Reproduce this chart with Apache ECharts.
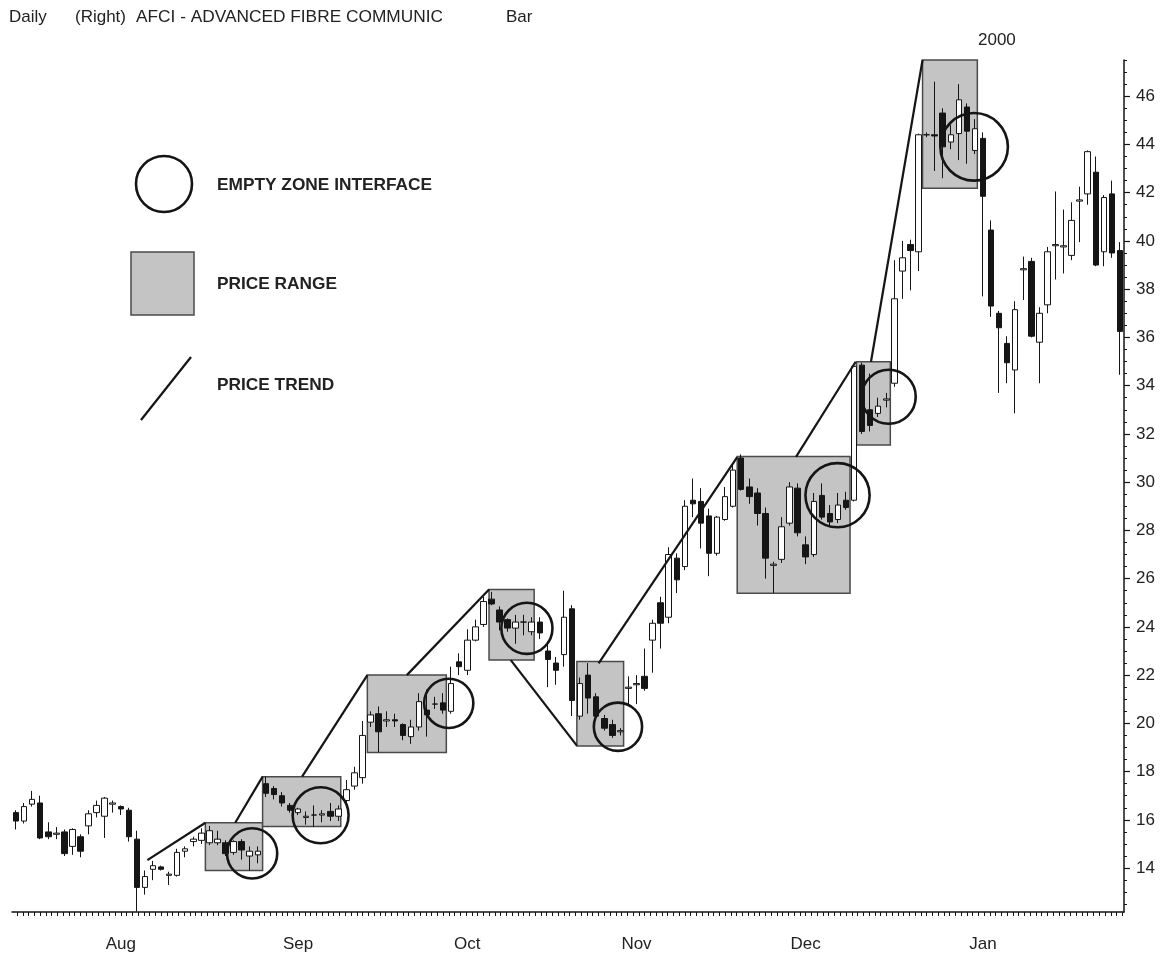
<!DOCTYPE html>
<html><head><meta charset="utf-8">
<script src="https://cdn.jsdelivr.net/npm/echarts@6/dist/echarts.min.js"></script>
<style>html,body{margin:0;padding:0;background:#fff}#c{width:1161px;height:955px}</style>
</head><body><div id="c"></div>
<script>
// trading days per month (Jul 1999 - Jan 2000)
const tradingDays = {
  '1999-07': [14,15,16,19,20,21,22,23,26,27,28,29,30],
  '1999-08': [2,3,4,5,6,9,10,11,12,13,16,17,18,19,20,23,24,25,26,27,30,31],
  '1999-09': [1,2,3,7,8,9,10,13,14,15,16,17,20,21,22,23,24,27,28,29,30],
  '1999-10': [1,4,5,6,7,8,11,12,13,14,15,18,19,20,21,22,25,26,27,28,29],
  '1999-11': [1,2,3,4,5,8,9,10,11,12,15,16,17,18,19,22,23,24,26,29,30],
  '1999-12': [1,2,3,6,7,8,9,10,13,14,15,16,17,20,21,22,23,27,28,29,30,31],
  '2000-01': [3,4,5,6,7,10,11,12,13,14,18,19,20,21,24,25,26,27]
};
const monthNames = {'07':'Jul','08':'Aug','09':'Sep','10':'Oct','11':'Nov','12':'Dec','01':'Jan'};

// [open, close, low, high]
const candles = [
 [16.3,15.95,15.6,16.4],[15.95,16.55,15.85,16.7],[16.65,16.85,16.55,17.2],[16.7,15.25,15.2,17.0],
 [15.5,15.3,15.2,15.9],[15.4,15.45,15.2,15.7],[15.5,14.6,14.5,15.6],[14.9,15.6,14.55,15.65],
 [15.3,14.7,14.45,15.4],[15.75,16.25,15.4,16.4],[16.3,16.6,16.1,16.8],[16.15,16.9,15.25,16.95],
 [16.65,16.7,16.3,16.8],[16.55,16.45,16.2,16.6],[16.4,15.3,15.1,16.5],[15.2,13.2,12.2,15.55],
 [13.2,13.65,12.9,13.9],[13.95,14.1,13.5,14.3],[14.05,13.95,13.9,14.1],[13.7,13.75,13.3,13.85],
 [13.7,14.65,13.65,14.8],[14.7,14.8,14.45,14.9],[15.1,15.2,14.9,15.3],[15.15,15.45,15.0,15.65],
 [15.05,15.55,14.95,15.75],[15.05,15.2,14.95,15.55],[15.05,14.6,14.5,15.15],[14.65,15.1,14.55,15.15],
 [15.1,14.75,14.35,15.2],[14.5,14.7,13.9,14.9],[14.55,14.7,14.2,14.9],[17.5,17.1,16.95,17.8],
 [17.3,17.05,16.85,17.4],[17.0,16.7,16.55,17.15],[16.6,16.4,16.3,16.7],[16.3,16.45,16.2,16.5],
 [16.1,16.15,15.8,16.35],[16.2,16.2,15.7,16.6],[16.2,16.25,15.9,16.4],[16.35,16.15,15.95,16.7],
 [16.15,16.45,15.95,16.6],[16.8,17.25,16.7,17.65],[17.4,17.95,17.25,18.2],[17.75,19.5,17.5,20.1],
 [20.05,20.35,19.85,20.5],[20.4,19.65,18.8,20.7],[20.1,20.15,19.85,20.5],[20.15,20.1,19.85,20.4],
 [19.95,19.5,19.3,20.0],[19.45,19.85,19.15,20.15],[19.85,20.9,19.7,21.25],[20.55,20.35,19.45,21.4],
 [20.8,20.8,20.6,21.1],[20.85,20.55,20.4,21.25],[20.5,21.65,20.4,22.35],[22.55,22.35,22.0,22.9],
 [22.2,23.45,22.0,23.9],[23.45,24.0,23.4,24.3],[24.1,25.05,24.0,25.25],[25.15,24.95,24.9,25.45],
 [24.7,24.2,23.85,24.85],[24.3,23.95,23.8,24.35],[23.95,24.2,23.3,24.5],[24.2,24.2,23.65,24.5],
 [23.8,24.2,23.65,24.4],[24.2,23.75,23.5,24.4],[23.0,22.65,21.5,23.4],[22.5,22.2,21.6,22.75],
 [22.85,24.4,22.35,25.5],[24.75,20.95,20.3,24.9],[20.3,21.65,20.15,21.9],[22.0,21.05,20.4,22.5],
 [21.1,20.3,20.2,21.25],[20.2,19.8,19.7,20.35],[19.95,19.5,19.4,20.15],[19.65,19.7,19.5,19.8],
 [21.45,21.5,20.8,21.95],[21.6,21.65,20.8,22.0],[21.95,21.45,21.35,23.1],[23.45,24.15,22.1,24.3],
 [25.0,24.15,23.1,25.25],[24.4,27.0,24.15,27.3],[26.85,25.95,25.4,27.05],[26.5,29.0,26.35,29.25],
 [29.25,29.1,28.55,30.15],[29.2,28.3,27.25,29.75],[28.6,27.05,26.1,28.9],[27.05,28.55,26.95,28.6],
 [28.45,29.4,28.4,29.8],[29.0,30.5,28.95,30.8],[31.0,29.7,29.65,31.15],[29.8,29.4,29.1,30.15],
 [29.55,28.7,28.2,29.75],[28.7,26.85,26.0,28.95],[26.55,26.6,25.4,26.7],[26.8,28.15,26.65,28.55],
 [28.3,29.8,28.2,30.0],[29.75,27.9,27.75,29.95],[27.4,26.9,26.6,27.75],[27.0,29.2,26.9,29.55],
 [29.45,28.55,28.45,29.95],[28.7,28.35,28.2,29.05],[28.45,29.05,28.3,29.55],[29.25,28.95,28.85,29.6],
 [29.25,34.8,29.2,34.85],[34.85,32.1,32.0,34.95],[33.0,32.35,32.1,34.5],[32.85,33.15,32.7,33.5],
 [33.4,33.45,33.1,33.7],[34.1,37.6,33.95,39.2],[38.75,39.3,37.6,40.0],[39.85,39.6,37.95,40.05],
 [39.55,44.4,38.75,44.45],[44.4,44.4,44.3,44.5],[44.4,44.35,42.9,46.6],[45.3,43.9,42.6,45.5],
 [44.1,44.4,43.8,44.8],[44.45,45.85,43.35,46.5],[45.55,44.55,43.2,45.7],[43.75,44.65,43.6,45.05],
 [44.25,41.85,37.7,44.5],[40.45,37.3,36.85,40.85],[37.0,36.4,33.7,37.1],[35.75,34.95,34.1,36.05],
 [34.65,37.15,32.85,37.5],[38.8,38.85,37.55,39.35],[39.15,36.05,36.0,39.3],[35.8,37.0,34.1,37.25],
 [37.35,39.55,37.0,39.75],[39.8,39.85,38.4,42.05],[39.75,39.8,38.65,41.3],[39.4,40.85,39.2,41.6],
 [41.65,41.7,39.95,42.25],[41.95,43.7,41.5,43.75],[42.85,39.0,38.95,43.5],[39.55,41.8,38.95,41.9],
 [41.95,39.5,39.3,42.5],[39.6,36.25,34.45,39.95]
];

// price range boxes: [startIndex, endIndex, lowPrice, highPrice]
const priceRanges = [
 [23.5,30.6,13.9,15.88],[30.6,40.3,15.72,17.79],[43.6,53.4,18.79,22.0],[58.7,64.3,22.63,25.55],
 [69.6,75.4,19.06,22.56],[89.5,103.5,25.39,31.06],[104.3,108.5,31.54,34.99],[112.5,119.3,42.18,47.5]
];
// price trend segments: [index1, price1, index2, price2]
const priceTrends = [
 [16.3,14.33,23.5,15.88],[27.2,15.88,30.6,17.79],[35.5,17.79,43.6,22.0],[48.5,22.0,58.7,25.55],
 [61.4,22.62,69.6,19.08],[72.3,22.49,89.5,31.04],[96.8,31.05,104.2,34.99],[106.1,34.99,112.5,47.5]
];
// empty zone interfaces: [centerIndex, centerPrice, radiusInPrice]
const emptyZones = [
 [29.3,14.61,1.04],[37.8,16.19,1.16],[53.7,20.83,1.02],[63.4,23.94,1.06],
 [74.7,19.86,1.0],[101.95,29.46,1.33],[108.3,33.54,1.12],[118.9,43.9,1.4]
];
const yLabels = [14,16,18,20,22,24,26,28,30,32,34,36,38,40,42,44,46];

const categories = [];
for (const ym in tradingDays) for (const d of tradingDays[ym]) categories.push(ym + '-' + String(d).padStart(2,'0'));
const isMonthStart = i => i > 0 && categories[i].slice(0,7) !== categories[i-1].slice(0,7);

const N = categories.length;
const yMin = 12.18, yMax = 47.5;
const minorY = []; for (let v = 12.5; v <= 47.5; v += 0.5) minorY.push(v);
const calTicks = [];
for (let v = 13; v >= -0.5; v -= 5/7) calTicks.push(v);
for (let v = 13 + 5/7; v <= N - 0.5; v += 5/7) calTicks.push(v);

const ink = '#151515';
const FONT = '"Liberation Sans", Arial, sans-serif';
const chart = echarts.init(document.getElementById('c'), null, {renderer:'canvas'});
chart.setOption({
  animation: false,
  backgroundColor: '#fff',
  grid: {left: 12, right: 37, top: 60, bottom: 43},
  xAxis: [{
    type: 'category', data: categories, position: 'bottom', boundaryGap: true,
    axisLine: {onZero: false, lineStyle: {color: ink, width: 1.5}},
    axisTick: {interval: (i) => isMonthStart(i), alignWithLabel: true, length: 9, lineStyle: {color: ink, width: 1.2}},
    axisLabel: {interval: (i) => isMonthStart(i), formatter: v => monthNames[v.slice(5,7)], margin: 24,
      fontSize: 17, fontFamily: FONT, color: '#222'},
    splitLine: {show: false}
  }, {
    type: 'value', min: -0.5, max: N - 0.5, position: 'bottom',
    axisLine: {show: false, onZero: false},
    axisTick: {show: true, customValues: calTicks, length: 4, lineStyle: {color: ink, width: 1}},
    axisLabel: {show: false}, splitLine: {show: false}
  }],
  yAxis: [{
    type: 'value', position: 'right', min: yMin, max: yMax, scale: true,
    axisLine: {show: true, onZero: false, lineStyle: {color: ink, width: 1.5}},
    axisTick: {show: true, customValues: yLabels, length: 6, lineStyle: {color: ink, width: 1.2}},
    axisLabel: {customValues: yLabels, margin: 12, fontSize: 17, fontFamily: FONT, color: '#222'},
    splitLine: {show: false}
  }, {
    type: 'value', position: 'right', min: yMin, max: yMax, scale: true,
    axisLine: {show: false, onZero: false},
    axisTick: {show: true, customValues: minorY, length: 3, lineStyle: {color: ink, width: 1}},
    axisLabel: {show: false}, splitLine: {show: false}
  }],
  series: [{
    type: 'custom', name: 'PRICE RANGE', xAxisIndex: 1, yAxisIndex: 0, z: 1,
    data: priceRanges, encode: {x: [0,1], y: [2,3]},
    renderItem: (params, api) => {
      const a = api.coord([api.value(0), api.value(3)]);
      const b = api.coord([api.value(1), api.value(2)]);
      return {type: 'rect', shape: {x: a[0], y: a[1], width: b[0]-a[0], height: b[1]-a[1]},
        style: {fill: '#c4c4c4', stroke: '#4a4a4a', lineWidth: 1.5}};
    }
  }, {
    type: 'candlestick', name: 'AFCI', xAxisIndex: 0, yAxisIndex: 0, z: 2,
    data: candles, barWidth: 6,
    itemStyle: {color: '#ffffff', color0: ink, borderColor: ink, borderColor0: ink, borderWidth: 1}
  }, {
    type: 'custom', name: 'PRICE TREND', xAxisIndex: 1, yAxisIndex: 0, z: 3,
    data: priceTrends, encode: {x: [0,2], y: [1,3]},
    renderItem: (params, api) => {
      const a = api.coord([api.value(0), api.value(1)]);
      const b = api.coord([api.value(2), api.value(3)]);
      return {type: 'line', shape: {x1: a[0], y1: a[1], x2: b[0], y2: b[1]},
        style: {stroke: ink, lineWidth: 2.2}};
    }
  }, {
    type: 'custom', name: 'EMPTY ZONE INTERFACE', xAxisIndex: 1, yAxisIndex: 0, z: 4,
    data: emptyZones, encode: {x: 0, y: 1},
    renderItem: (params, api) => {
      const c = api.coord([api.value(0), api.value(1)]);
      const r = api.size([0, api.value(2)])[1];
      return {type: 'circle', shape: {cx: c[0], cy: c[1], r: r},
        style: {fill: 'none', stroke: ink, lineWidth: 2.6}};
    }
  }],
  graphic: [
    {type: 'text', x: 9, y: 17, style: {text: 'Daily', font: '17px ' + FONT, fill: '#222', verticalAlign: 'middle'}},
    {type: 'text', x: 75, y: 17, style: {text: '(Right)', font: '17px ' + FONT, fill: '#222', verticalAlign: 'middle'}},
    {type: 'text', x: 136, y: 17, style: {text: 'AFCI - ADVANCED FIBRE COMMUNIC', font: '17.3px ' + FONT, fill: '#222', verticalAlign: 'middle'}},
    {type: 'text', x: 506, y: 17, style: {text: 'Bar', font: '17px ' + FONT, fill: '#222', verticalAlign: 'middle'}},
    {type: 'text', x: 978, y: 40, style: {text: '2000', font: '17px ' + FONT, fill: '#222', verticalAlign: 'middle'}},
    {type: 'circle', shape: {cx: 164, cy: 184, r: 28}, style: {fill: 'none', stroke: ink, lineWidth: 2.6}},
    {type: 'rect', shape: {x: 131, y: 252, width: 63, height: 63}, style: {fill: '#c4c4c4', stroke: '#4a4a4a', lineWidth: 1.5}},
    {type: 'line', shape: {x1: 141, y1: 420, x2: 191, y2: 357}, style: {stroke: ink, lineWidth: 2.2}},
    {type: 'text', x: 217, y: 185, style: {text: 'EMPTY ZONE INTERFACE', font: 'bold 17.3px ' + FONT, fill: '#222', verticalAlign: 'middle'}},
    {type: 'text', x: 217, y: 284, style: {text: 'PRICE RANGE', font: 'bold 17.3px ' + FONT, fill: '#222', verticalAlign: 'middle'}},
    {type: 'text', x: 217, y: 385, style: {text: 'PRICE TREND', font: 'bold 17.3px ' + FONT, fill: '#222', verticalAlign: 'middle'}}
  ]
});
</script>
</body></html>
